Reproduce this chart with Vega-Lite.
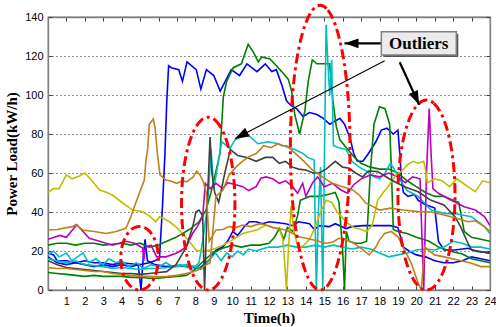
{
"$schema": "https://vega.github.io/schema/vega-lite/v6.json",
"width": 442, "height": 273,
"autosize": {"type": "none"},
"padding": {"left": 48, "top": 17, "right": 6, "bottom": 37},
"background": "white",
"config": {
  "view": {"stroke": "#7f7f7f", "strokeWidth": 1.3},
  "axis": {"domainColor": "#7f7f7f", "domainWidth": 1.3, "tickColor": "#404040", "tickWidth": 1,
    "labelFont": "Liberation Sans", "labelFontSize": 11, "labelColor": "#000",
    "titleFont": "Liberation Serif", "titleFontSize": 15, "titleFontWeight": "bold", "titleColor": "#000"}
},
"datasets": {
"load": [
{"s":"b1","t":0,"v":19},{"s":"b1","t":0.3,"v":18},{"s":"b1","t":0.5,"v":15},{"s":"b1","t":1,"v":15},{"s":"b1","t":1.5,"v":14},{"s":"b1","t":2,"v":15},{"s":"b1","t":2.5,"v":14},{"s":"b1","t":3,"v":14},{"s":"b1","t":3.5,"v":13},{"s":"b1","t":4,"v":14},{"s":"b1","t":4.5,"v":13.5},{"s":"b1","t":5,"v":13},{"s":"b1","t":5.5,"v":14},{"s":"b1","t":5.8,"v":15},{"s":"b1","t":6.05,"v":16},{"s":"b1","t":6.2,"v":40},{"s":"b1","t":6.35,"v":70},{"s":"b1","t":6.45,"v":97},{"s":"b1","t":6.55,"v":115},{"s":"b1","t":6.7,"v":114},{"s":"b1","t":7.1,"v":113},{"s":"b1","t":7.3,"v":107},{"s":"b1","t":7.55,"v":117},{"s":"b1","t":8.05,"v":113},{"s":"b1","t":8.3,"v":103},{"s":"b1","t":8.6,"v":113},{"s":"b1","t":9.0,"v":110},{"s":"b1","t":9.35,"v":102},{"s":"b1","t":9.95,"v":113},{"s":"b1","t":10.4,"v":110},{"s":"b1","t":10.8,"v":116},{"s":"b1","t":11.35,"v":112},{"s":"b1","t":11.8,"v":116},{"s":"b1","t":12.15,"v":112},{"s":"b1","t":12.4,"v":113},{"s":"b1","t":12.7,"v":105},{"s":"b1","t":12.95,"v":97},{"s":"b1","t":13.2,"v":94.5},{"s":"b1","t":13.5,"v":93},{"s":"b1","t":13.85,"v":89},{"s":"b1","t":14.2,"v":91},{"s":"b1","t":14.6,"v":90},{"s":"b1","t":14.95,"v":88},{"s":"b1","t":15.3,"v":85},{"s":"b1","t":15.85,"v":88},{"s":"b1","t":16.1,"v":85},{"s":"b1","t":16.4,"v":78},{"s":"b1","t":16.6,"v":70},{"s":"b1","t":16.8,"v":66},{"s":"b1","t":17.1,"v":66},{"s":"b1","t":17.4,"v":70},{"s":"b1","t":17.8,"v":76},{"s":"b1","t":18.1,"v":82},{"s":"b1","t":18.4,"v":83},{"s":"b1","t":18.75,"v":80},{"s":"b1","t":19.0,"v":82},{"s":"b1","t":19.1,"v":70},{"s":"b1","t":19.2,"v":56},{"s":"b1","t":19.3,"v":50},{"s":"b1","t":19.55,"v":48},{"s":"b1","t":19.9,"v":49},{"s":"b1","t":20.1,"v":46},{"s":"b1","t":20.45,"v":44},{"s":"b1","t":21.0,"v":42},{"s":"b1","t":21.2,"v":25},{"s":"b1","t":21.5,"v":20.5},{"s":"b1","t":22.1,"v":20.5},{"s":"b1","t":22.8,"v":21.4},{"s":"b1","t":23.3,"v":19.7},{"s":"b1","t":24,"v":19},

{"s":"b2","t":0,"v":17},{"s":"b2","t":0.5,"v":14},{"s":"b2","t":1,"v":13},{"s":"b2","t":1.5,"v":14},{"s":"b2","t":2,"v":13},{"s":"b2","t":2.5,"v":12},{"s":"b2","t":3,"v":13},{"s":"b2","t":3.5,"v":12},{"s":"b2","t":4,"v":13},{"s":"b2","t":4.5,"v":12},{"s":"b2","t":4.9,"v":13},{"s":"b2","t":5.05,"v":0},{"s":"b2","t":5.15,"v":14},{"s":"b2","t":5.27,"v":26},{"s":"b2","t":5.4,"v":15},{"s":"b2","t":5.8,"v":13},{"s":"b2","t":6.4,"v":12},{"s":"b2","t":7.0,"v":12.5},{"s":"b2","t":7.67,"v":12},{"s":"b2","t":8.2,"v":11},{"s":"b2","t":8.76,"v":15.4},{"s":"b2","t":9.12,"v":20.5},{"s":"b2","t":9.48,"v":22},{"s":"b2","t":9.75,"v":25},{"s":"b2","t":10.03,"v":30},{"s":"b2","t":10.3,"v":28},{"s":"b2","t":10.66,"v":32.5},{"s":"b2","t":10.93,"v":35},{"s":"b2","t":11.3,"v":35},{"s":"b2","t":11.65,"v":34},{"s":"b2","t":12,"v":35},{"s":"b2","t":12.5,"v":34.5},{"s":"b2","t":12.9,"v":34},{"s":"b2","t":13.28,"v":33},{"s":"b2","t":13.6,"v":35},{"s":"b2","t":14.2,"v":34},{"s":"b2","t":14.46,"v":31},{"s":"b2","t":14.73,"v":33},{"s":"b2","t":15.27,"v":32.5},{"s":"b2","t":15.6,"v":34},{"s":"b2","t":16.18,"v":31.5},{"s":"b2","t":16.5,"v":32.5},{"s":"b2","t":17.1,"v":33},{"s":"b2","t":17.6,"v":33},{"s":"b2","t":18,"v":33},{"s":"b2","t":18.6,"v":33},{"s":"b2","t":19.0,"v":32},{"s":"b2","t":19.3,"v":22},{"s":"b2","t":19.6,"v":20},{"s":"b2","t":20,"v":18},{"s":"b2","t":20.5,"v":17},{"s":"b2","t":21,"v":15},{"s":"b2","t":21.5,"v":14},{"s":"b2","t":22,"v":14},{"s":"b2","t":22.5,"v":15},{"s":"b2","t":23,"v":17},{"s":"b2","t":23.5,"v":16},{"s":"b2","t":24,"v":15},

{"s":"g1","t":0,"v":23},{"s":"g1","t":0.5,"v":24},{"s":"g1","t":1,"v":24},{"s":"g1","t":1.5,"v":23},{"s":"g1","t":2,"v":24},{"s":"g1","t":2.5,"v":24},{"s":"g1","t":3,"v":23},{"s":"g1","t":3.5,"v":23.5},{"s":"g1","t":4,"v":24},{"s":"g1","t":4.5,"v":23},{"s":"g1","t":5,"v":24},{"s":"g1","t":5.5,"v":22},{"s":"g1","t":6,"v":23},{"s":"g1","t":6.2,"v":24},{"s":"g1","t":6.95,"v":27},{"s":"g1","t":7.67,"v":31},{"s":"g1","t":8.2,"v":35},{"s":"g1","t":8.58,"v":41},{"s":"g1","t":8.85,"v":50},{"s":"g1","t":9.1,"v":60},{"s":"g1","t":9.34,"v":70},{"s":"g1","t":9.52,"v":99},{"s":"g1","t":9.7,"v":107},{"s":"g1","t":10.06,"v":114},{"s":"g1","t":10.5,"v":116},{"s":"g1","t":10.87,"v":126},{"s":"g1","t":11.15,"v":122},{"s":"g1","t":11.42,"v":117},{"s":"g1","t":11.6,"v":119.5},{"s":"g1","t":12.05,"v":118.5},{"s":"g1","t":12.4,"v":115},{"s":"g1","t":12.69,"v":112},{"s":"g1","t":13.05,"v":108},{"s":"g1","t":13.23,"v":102},{"s":"g1","t":13.4,"v":90},{"s":"g1","t":13.66,"v":80},{"s":"g1","t":13.95,"v":92},{"s":"g1","t":14.13,"v":107},{"s":"g1","t":14.35,"v":118},{"s":"g1","t":14.6,"v":116},{"s":"g1","t":14.95,"v":116},{"s":"g1","t":15.29,"v":116},{"s":"g1","t":15.47,"v":97},{"s":"g1","t":15.65,"v":84},{"s":"g1","t":15.85,"v":77},{"s":"g1","t":16.2,"v":73},{"s":"g1","t":16.65,"v":68},{"s":"g1","t":17,"v":65},{"s":"g1","t":17.5,"v":63},{"s":"g1","t":18,"v":62},{"s":"g1","t":18.5,"v":62},{"s":"g1","t":19,"v":60},{"s":"g1","t":19.5,"v":56},{"s":"g1","t":20,"v":53},{"s":"g1","t":20.5,"v":50},{"s":"g1","t":21,"v":48},{"s":"g1","t":21.5,"v":48},{"s":"g1","t":22,"v":46},{"s":"g1","t":22.3,"v":45},{"s":"g1","t":22.6,"v":30},{"s":"g1","t":23,"v":27},{"s":"g1","t":23.5,"v":26},{"s":"g1","t":24,"v":25},

{"s":"g2","t":0,"v":9},{"s":"g2","t":0.5,"v":8.5},{"s":"g2","t":1,"v":8},{"s":"g2","t":1.5,"v":7.5},{"s":"g2","t":2,"v":7},{"s":"g2","t":2.5,"v":7.5},{"s":"g2","t":3,"v":7},{"s":"g2","t":3.5,"v":7},{"s":"g2","t":4,"v":7},{"s":"g2","t":4.5,"v":6.5},{"s":"g2","t":5,"v":6.5},{"s":"g2","t":5.5,"v":6},{"s":"g2","t":6,"v":6},{"s":"g2","t":6.5,"v":6.5},{"s":"g2","t":7,"v":7},{"s":"g2","t":7.5,"v":7.5},{"s":"g2","t":7.7,"v":8.5},{"s":"g2","t":8.03,"v":11},{"s":"g2","t":8.4,"v":14.5},{"s":"g2","t":8.94,"v":19},{"s":"g2","t":9.48,"v":21.4},{"s":"g2","t":10.03,"v":23},{"s":"g2","t":10.5,"v":22},{"s":"g2","t":11,"v":23},{"s":"g2","t":11.5,"v":23},{"s":"g2","t":12,"v":24},{"s":"g2","t":12.3,"v":27},{"s":"g2","t":12.56,"v":31.6},{"s":"g2","t":12.8,"v":26},{"s":"g2","t":13.0,"v":32},{"s":"g2","t":13.3,"v":30},{"s":"g2","t":13.55,"v":38},{"s":"g2","t":13.7,"v":46},{"s":"g2","t":14.2,"v":48},{"s":"g2","t":14.7,"v":48},{"s":"g2","t":15.2,"v":49},{"s":"g2","t":15.6,"v":50},{"s":"g2","t":15.8,"v":45},{"s":"g2","t":16.0,"v":20},{"s":"g2","t":16.1,"v":0},{"s":"g2","t":16.2,"v":30},{"s":"g2","t":16.35,"v":25},{"s":"g2","t":16.7,"v":24},{"s":"g2","t":17.0,"v":24},{"s":"g2","t":17.3,"v":25},{"s":"g2","t":17.5,"v":60},{"s":"g2","t":17.7,"v":85},{"s":"g2","t":18.0,"v":94},{"s":"g2","t":18.3,"v":93},{"s":"g2","t":18.55,"v":85},{"s":"g2","t":18.65,"v":60},{"s":"g2","t":18.75,"v":31},{"s":"g2","t":19,"v":30},{"s":"g2","t":19.5,"v":29},{"s":"g2","t":20,"v":27},{"s":"g2","t":20.7,"v":25},{"s":"g2","t":21.2,"v":22},{"s":"g2","t":21.8,"v":20},{"s":"g2","t":22.5,"v":18.5},{"s":"g2","t":23,"v":16},{"s":"g2","t":23.5,"v":15},{"s":"g2","t":24,"v":14},

{"s":"c1","t":0,"v":16},{"s":"c1","t":0.5,"v":15},{"s":"c1","t":1,"v":14},{"s":"c1","t":1.5,"v":15},{"s":"c1","t":2,"v":13},{"s":"c1","t":2.5,"v":12.5},{"s":"c1","t":3,"v":12},{"s":"c1","t":3.5,"v":11},{"s":"c1","t":4,"v":11.5},{"s":"c1","t":4.5,"v":11},{"s":"c1","t":5,"v":10.5},{"s":"c1","t":5.5,"v":11},{"s":"c1","t":6,"v":11},{"s":"c1","t":6.5,"v":11.5},{"s":"c1","t":7,"v":12},{"s":"c1","t":7.5,"v":13},{"s":"c1","t":8,"v":12},{"s":"c1","t":8.2,"v":14},{"s":"c1","t":8.4,"v":25},{"s":"c1","t":8.6,"v":39},{"s":"c1","t":8.75,"v":55},{"s":"c1","t":8.85,"v":72},{"s":"c1","t":9.0,"v":52},{"s":"c1","t":9.2,"v":63},{"s":"c1","t":9.43,"v":76},{"s":"c1","t":9.7,"v":74},{"s":"c1","t":9.88,"v":72.6},{"s":"c1","t":10.15,"v":77},{"s":"c1","t":10.6,"v":79},{"s":"c1","t":10.86,"v":79.5},{"s":"c1","t":11.4,"v":75},{"s":"c1","t":11.94,"v":76},{"s":"c1","t":12.5,"v":75},{"s":"c1","t":12.94,"v":73.5},{"s":"c1","t":13.4,"v":72},{"s":"c1","t":13.84,"v":70},{"s":"c1","t":14.1,"v":68},{"s":"c1","t":14.45,"v":66.7},{"s":"c1","t":14.57,"v":0},{"s":"c1","t":14.68,"v":40},{"s":"c1","t":14.8,"v":63},{"s":"c1","t":14.92,"v":0},{"s":"c1","t":15.1,"v":136},{"s":"c1","t":15.2,"v":116},{"s":"c1","t":15.3,"v":100},{"s":"c1","t":15.4,"v":118},{"s":"c1","t":15.5,"v":74},{"s":"c1","t":15.8,"v":73},{"s":"c1","t":16.2,"v":72},{"s":"c1","t":16.5,"v":66},{"s":"c1","t":16.9,"v":63},{"s":"c1","t":17.3,"v":61},{"s":"c1","t":17.7,"v":58},{"s":"c1","t":18,"v":57},{"s":"c1","t":18.3,"v":60},{"s":"c1","t":18.6,"v":65},{"s":"c1","t":18.8,"v":62},{"s":"c1","t":19,"v":58},{"s":"c1","t":19.5,"v":51},{"s":"c1","t":20.1,"v":48},{"s":"c1","t":20.8,"v":41},{"s":"c1","t":21.5,"v":39.3},{"s":"c1","t":22.2,"v":39},{"s":"c1","t":23,"v":37.6},{"s":"c1","t":23.7,"v":32.5},{"s":"c1","t":24,"v":29},

{"s":"c2","t":0,"v":18},{"s":"c2","t":0.3,"v":20},{"s":"c2","t":0.6,"v":17},{"s":"c2","t":1,"v":19},{"s":"c2","t":1.3,"v":15},{"s":"c2","t":1.6,"v":17},{"s":"c2","t":1.9,"v":19},{"s":"c2","t":2.2,"v":14},{"s":"c2","t":2.6,"v":16},{"s":"c2","t":3,"v":13},{"s":"c2","t":3.3,"v":16},{"s":"c2","t":3.7,"v":14},{"s":"c2","t":4,"v":15},{"s":"c2","t":4.4,"v":12},{"s":"c2","t":4.8,"v":14},{"s":"c2","t":5.2,"v":11},{"s":"c2","t":5.6,"v":13},{"s":"c2","t":6,"v":12},{"s":"c2","t":6.4,"v":14},{"s":"c2","t":6.8,"v":12},{"s":"c2","t":7.2,"v":13},{"s":"c2","t":7.6,"v":11.5},{"s":"c2","t":8,"v":12},{"s":"c2","t":8.3,"v":10.5},{"s":"c2","t":8.7,"v":15},{"s":"c2","t":9.1,"v":19},{"s":"c2","t":9.4,"v":15},{"s":"c2","t":9.7,"v":19},{"s":"c2","t":10,"v":17},{"s":"c2","t":10.3,"v":20},{"s":"c2","t":10.6,"v":18},{"s":"c2","t":10.9,"v":21},{"s":"c2","t":11.3,"v":20},{"s":"c2","t":11.6,"v":21},{"s":"c2","t":12,"v":22},{"s":"c2","t":12.5,"v":22},{"s":"c2","t":13,"v":23},{"s":"c2","t":13.5,"v":22},{"s":"c2","t":14,"v":22},{"s":"c2","t":14.5,"v":23},{"s":"c2","t":15,"v":22},{"s":"c2","t":15.5,"v":23},{"s":"c2","t":16,"v":22},{"s":"c2","t":16.5,"v":21},{"s":"c2","t":17,"v":22},{"s":"c2","t":17.5,"v":21},{"s":"c2","t":18,"v":19},{"s":"c2","t":18.5,"v":17},{"s":"c2","t":19,"v":18},{"s":"c2","t":19.5,"v":19},{"s":"c2","t":20,"v":20.5},{"s":"c2","t":20.5,"v":21},{"s":"c2","t":21,"v":20.5},{"s":"c2","t":21.5,"v":22},{"s":"c2","t":22,"v":25},{"s":"c2","t":22.5,"v":24},{"s":"c2","t":23,"v":22},{"s":"c2","t":23.5,"v":22},{"s":"c2","t":24,"v":21},

{"s":"m1","t":0,"v":26},{"s":"m1","t":0.65,"v":28},{"s":"m1","t":1,"v":27},{"s":"m1","t":1.56,"v":33.5},{"s":"m1","t":1.8,"v":31},{"s":"m1","t":2.24,"v":26.5},{"s":"m1","t":2.8,"v":25},{"s":"m1","t":3.5,"v":23},{"s":"m1","t":4.23,"v":25},{"s":"m1","t":4.7,"v":24},{"s":"m1","t":5.14,"v":21.5},{"s":"m1","t":5.2,"v":15},{"s":"m1","t":5.3,"v":22},{"s":"m1","t":5.6,"v":23},{"s":"m1","t":5.9,"v":17},{"s":"m1","t":6.4,"v":17},{"s":"m1","t":7.0,"v":19},{"s":"m1","t":7.5,"v":22},{"s":"m1","t":7.85,"v":29},{"s":"m1","t":8.1,"v":32.5},{"s":"m1","t":8.4,"v":37.6},{"s":"m1","t":8.54,"v":54.7},{"s":"m1","t":8.8,"v":52},{"s":"m1","t":9.12,"v":54.7},{"s":"m1","t":9.5,"v":52},{"s":"m1","t":9.75,"v":55},{"s":"m1","t":10.2,"v":54},{"s":"m1","t":10.57,"v":53},{"s":"m1","t":10.9,"v":51},{"s":"m1","t":11.3,"v":53},{"s":"m1","t":11.56,"v":57.3},{"s":"m1","t":11.84,"v":58},{"s":"m1","t":12.2,"v":57},{"s":"m1","t":12.56,"v":54.7},{"s":"m1","t":12.9,"v":56},{"s":"m1","t":13.28,"v":53},{"s":"m1","t":13.55,"v":49.6},{"s":"m1","t":13.83,"v":54.7},{"s":"m1","t":14.0,"v":48},{"s":"m1","t":14.37,"v":55},{"s":"m1","t":14.64,"v":58},{"s":"m1","t":15,"v":53},{"s":"m1","t":15.45,"v":54.7},{"s":"m1","t":15.9,"v":51.3},{"s":"m1","t":16.27,"v":49.6},{"s":"m1","t":16.6,"v":54},{"s":"m1","t":17,"v":57},{"s":"m1","t":17.5,"v":59},{"s":"m1","t":18,"v":58},{"s":"m1","t":18.5,"v":60},{"s":"m1","t":19,"v":58},{"s":"m1","t":19.4,"v":55},{"s":"m1","t":19.8,"v":58},{"s":"m1","t":20.2,"v":57},{"s":"m1","t":20.4,"v":0},{"s":"m1","t":20.55,"v":60},{"s":"m1","t":20.7,"v":93},{"s":"m1","t":20.8,"v":70},{"s":"m1","t":20.9,"v":52},{"s":"m1","t":21.2,"v":49.6},{"s":"m1","t":21.9,"v":46},{"s":"m1","t":22.6,"v":42.7},{"s":"m1","t":23.2,"v":41},{"s":"m1","t":23.7,"v":37.6},{"s":"m1","t":24,"v":33},

{"s":"y1","t":0,"v":50},{"s":"y1","t":0.3,"v":52},{"s":"y1","t":0.6,"v":52},{"s":"y1","t":1,"v":59},{"s":"y1","t":1.3,"v":57},{"s":"y1","t":1.7,"v":58.5},{"s":"y1","t":2,"v":60},{"s":"y1","t":2.3,"v":57},{"s":"y1","t":2.8,"v":51.3},{"s":"y1","t":3.2,"v":50},{"s":"y1","t":3.5,"v":48.7},{"s":"y1","t":4,"v":45},{"s":"y1","t":4.6,"v":41},{"s":"y1","t":5.1,"v":40.2},{"s":"y1","t":5.5,"v":38},{"s":"y1","t":5.86,"v":35},{"s":"y1","t":6.05,"v":37.6},{"s":"y1","t":6.3,"v":36.5},{"s":"y1","t":6.6,"v":35},{"s":"y1","t":7.0,"v":32},{"s":"y1","t":7.3,"v":29},{"s":"y1","t":7.67,"v":25},{"s":"y1","t":8.03,"v":20.5},{"s":"y1","t":8.4,"v":19.7},{"s":"y1","t":8.8,"v":20.5},{"s":"y1","t":9.12,"v":21.4},{"s":"y1","t":9.5,"v":23},{"s":"y1","t":10.0,"v":25.6},{"s":"y1","t":10.57,"v":29},{"s":"y1","t":11.0,"v":30},{"s":"y1","t":11.4,"v":31},{"s":"y1","t":11.83,"v":33.3},{"s":"y1","t":12.2,"v":32},{"s":"y1","t":12.56,"v":31.6},{"s":"y1","t":12.75,"v":26},{"s":"y1","t":12.85,"v":14},{"s":"y1","t":12.95,"v":0},{"s":"y1","t":13.05,"v":20},{"s":"y1","t":13.2,"v":43},{"s":"y1","t":13.35,"v":30},{"s":"y1","t":13.6,"v":21.5},{"s":"y1","t":13.9,"v":23},{"s":"y1","t":14.2,"v":26},{"s":"y1","t":14.5,"v":32},{"s":"y1","t":14.8,"v":40},{"s":"y1","t":15.1,"v":46},{"s":"y1","t":15.4,"v":45},{"s":"y1","t":15.7,"v":40},{"s":"y1","t":16.0,"v":37},{"s":"y1","t":16.3,"v":34},{"s":"y1","t":16.6,"v":32},{"s":"y1","t":17.0,"v":31},{"s":"y1","t":17.3,"v":30},{"s":"y1","t":17.6,"v":33},{"s":"y1","t":17.9,"v":46},{"s":"y1","t":18.2,"v":50},{"s":"y1","t":18.46,"v":53},{"s":"y1","t":18.9,"v":59},{"s":"y1","t":19.2,"v":61},{"s":"y1","t":19.5,"v":64},{"s":"y1","t":19.8,"v":66},{"s":"y1","t":20.1,"v":65},{"s":"y1","t":20.4,"v":66},{"s":"y1","t":20.5,"v":61.5},{"s":"y1","t":20.6,"v":55},{"s":"y1","t":21,"v":57},{"s":"y1","t":21.4,"v":56},{"s":"y1","t":21.8,"v":53},{"s":"y1","t":22.2,"v":57},{"s":"y1","t":22.5,"v":55},{"s":"y1","t":22.8,"v":53},{"s":"y1","t":23.2,"v":50.4},{"s":"y1","t":23.6,"v":56},{"s":"y1","t":24,"v":55},

{"s":"k1","t":0,"v":15},{"s":"k1","t":0.5,"v":13},{"s":"k1","t":1,"v":11.5},{"s":"k1","t":1.5,"v":11},{"s":"k1","t":2,"v":10.5},{"s":"k1","t":2.5,"v":10},{"s":"k1","t":3,"v":9.5},{"s":"k1","t":3.5,"v":9},{"s":"k1","t":4,"v":8.5},{"s":"k1","t":4.5,"v":8.5},{"s":"k1","t":5,"v":8},{"s":"k1","t":5.5,"v":8.5},{"s":"k1","t":6,"v":9},{"s":"k1","t":6.44,"v":9.4},{"s":"k1","t":6.95,"v":13},{"s":"k1","t":7.2,"v":17},{"s":"k1","t":7.5,"v":22},{"s":"k1","t":7.85,"v":32},{"s":"k1","t":8.03,"v":40},{"s":"k1","t":8.2,"v":41},{"s":"k1","t":8.4,"v":38},{"s":"k1","t":8.5,"v":0},{"s":"k1","t":8.65,"v":45},{"s":"k1","t":8.8,"v":78.5},{"s":"k1","t":8.9,"v":60},{"s":"k1","t":9.05,"v":50},{"s":"k1","t":9.27,"v":45},{"s":"k1","t":9.6,"v":60},{"s":"k1","t":9.9,"v":72},{"s":"k1","t":10.3,"v":69},{"s":"k1","t":10.8,"v":68},{"s":"k1","t":11.3,"v":66},{"s":"k1","t":11.8,"v":68},{"s":"k1","t":12.2,"v":68},{"s":"k1","t":12.56,"v":65},{"s":"k1","t":12.9,"v":66},{"s":"k1","t":13.28,"v":63},{"s":"k1","t":13.6,"v":62},{"s":"k1","t":14,"v":61.5},{"s":"k1","t":14.4,"v":60},{"s":"k1","t":14.73,"v":60},{"s":"k1","t":15.1,"v":62},{"s":"k1","t":15.6,"v":66},{"s":"k1","t":16,"v":63},{"s":"k1","t":16.36,"v":62.4},{"s":"k1","t":16.7,"v":60},{"s":"k1","t":17.08,"v":58},{"s":"k1","t":17.4,"v":61},{"s":"k1","t":17.9,"v":60.7},{"s":"k1","t":18.64,"v":56.4},{"s":"k1","t":19.36,"v":53},{"s":"k1","t":20.1,"v":50.4},{"s":"k1","t":20.8,"v":46},{"s":"k1","t":21.5,"v":43.6},{"s":"k1","t":22.1,"v":37.6},{"s":"k1","t":22.4,"v":32.5},{"s":"k1","t":22.8,"v":24},{"s":"k1","t":23,"v":20.5},{"s":"k1","t":23.5,"v":19.7},{"s":"k1","t":24,"v":18.8},

{"s":"o1","t":0,"v":30.8},{"s":"o1","t":0.5,"v":31},{"s":"o1","t":1,"v":32},{"s":"o1","t":1.34,"v":32.5},{"s":"o1","t":1.5,"v":33.5},{"s":"o1","t":1.88,"v":30.8},{"s":"o1","t":2.5,"v":30},{"s":"o1","t":3.15,"v":29},{"s":"o1","t":3.7,"v":30},{"s":"o1","t":4.23,"v":31.6},{"s":"o1","t":4.5,"v":37.6},{"s":"o1","t":4.69,"v":42.7},{"s":"o1","t":4.96,"v":49.6},{"s":"o1","t":5.23,"v":56.4},{"s":"o1","t":5.32,"v":66.7},{"s":"o1","t":5.41,"v":72},{"s":"o1","t":5.5,"v":85},{"s":"o1","t":5.72,"v":87.7},{"s":"o1","t":5.81,"v":83.4},{"s":"o1","t":5.94,"v":70},{"s":"o1","t":6.08,"v":59},{"s":"o1","t":6.4,"v":56.4},{"s":"o1","t":6.62,"v":56},{"s":"o1","t":6.99,"v":54.7},{"s":"o1","t":7.3,"v":56},{"s":"o1","t":7.53,"v":55.5},{"s":"o1","t":7.89,"v":58},{"s":"o1","t":8.07,"v":61},{"s":"o1","t":8.25,"v":59},{"s":"o1","t":8.43,"v":55.5},{"s":"o1","t":8.6,"v":49.6},{"s":"o1","t":8.75,"v":25},{"s":"o1","t":9.12,"v":30.8},{"s":"o1","t":9.5,"v":31},{"s":"o1","t":9.84,"v":32.5},{"s":"o1","t":10.2,"v":32},{"s":"o1","t":10.57,"v":33.3},{"s":"o1","t":11,"v":32.5},{"s":"o1","t":11.5,"v":34},{"s":"o1","t":11.83,"v":33.3},{"s":"o1","t":12.38,"v":31.6},{"s":"o1","t":12.92,"v":30.8},{"s":"o1","t":13.3,"v":29},{"s":"o1","t":13.64,"v":27.3},{"s":"o1","t":14,"v":26.5},{"s":"o1","t":14.5,"v":25.5},{"s":"o1","t":15.1,"v":24},{"s":"o1","t":15.45,"v":24.5},{"s":"o1","t":15.8,"v":26.5},{"s":"o1","t":16.2,"v":25.6},{"s":"o1","t":16.6,"v":24},{"s":"o1","t":17,"v":21.4},{"s":"o1","t":17.44,"v":18},{"s":"o1","t":17.8,"v":22},{"s":"o1","t":18,"v":25.6},{"s":"o1","t":18.28,"v":29},{"s":"o1","t":18.64,"v":30},{"s":"o1","t":19,"v":27.3},{"s":"o1","t":19.36,"v":20.5},{"s":"o1","t":19.73,"v":13.7},{"s":"o1","t":20.1,"v":3.4},{"s":"o1","t":20.27,"v":0},{"s":"o1","t":20.45,"v":22.2},{"s":"o1","t":20.7,"v":20},{"s":"o1","t":21,"v":18},{"s":"o1","t":21.5,"v":17},{"s":"o1","t":22.26,"v":15.4},{"s":"o1","t":23,"v":13.7},{"s":"o1","t":23.5,"v":12},{"s":"o1","t":24,"v":12},

{"s":"o2","t":0,"v":11.5},{"s":"o2","t":0.5,"v":11},{"s":"o2","t":1,"v":11},{"s":"o2","t":1.5,"v":10.5},{"s":"o2","t":2,"v":10},{"s":"o2","t":2.5,"v":9.5},{"s":"o2","t":3,"v":9.5},{"s":"o2","t":3.5,"v":8.5},{"s":"o2","t":4,"v":8},{"s":"o2","t":4.5,"v":7.5},{"s":"o2","t":5,"v":7},{"s":"o2","t":5.5,"v":7},{"s":"o2","t":6,"v":6.8},{"s":"o2","t":6.5,"v":7},{"s":"o2","t":7,"v":7.5},{"s":"o2","t":7.5,"v":8.5},{"s":"o2","t":7.9,"v":9.4},{"s":"o2","t":8.2,"v":10.5},{"s":"o2","t":8.43,"v":12},{"s":"o2","t":8.8,"v":14},{"s":"o2","t":8.95,"v":30},{"s":"o2","t":9.12,"v":48},{"s":"o2","t":9.48,"v":51},{"s":"o2","t":9.84,"v":59},{"s":"o2","t":10.2,"v":63},{"s":"o2","t":10.55,"v":66},{"s":"o2","t":10.93,"v":68.4},{"s":"o2","t":11.3,"v":70},{"s":"o2","t":11.58,"v":72.6},{"s":"o2","t":11.7,"v":74},{"s":"o2","t":12.1,"v":73},{"s":"o2","t":12.49,"v":75},{"s":"o2","t":12.7,"v":74},{"s":"o2","t":12.96,"v":74},{"s":"o2","t":13.2,"v":72},{"s":"o2","t":13.55,"v":69},{"s":"o2","t":13.9,"v":66},{"s":"o2","t":14.3,"v":62},{"s":"o2","t":14.9,"v":58},{"s":"o2","t":15.45,"v":54.7},{"s":"o2","t":16,"v":53},{"s":"o2","t":16.55,"v":51.3},{"s":"o2","t":16.9,"v":48.7},{"s":"o2","t":17.26,"v":44.5},{"s":"o2","t":17.6,"v":43},{"s":"o2","t":18,"v":41},{"s":"o2","t":18.6,"v":42},{"s":"o2","t":19.3,"v":41},{"s":"o2","t":20.1,"v":40.2},{"s":"o2","t":20.8,"v":40},{"s":"o2","t":21.5,"v":38.5},{"s":"o2","t":22.1,"v":37},{"s":"o2","t":22.8,"v":35},{"s":"o2","t":23.2,"v":35.5},{"s":"o2","t":23.7,"v":32.5},{"s":"o2","t":24,"v":30}
],
"ellipses": [
{"e":1,"i":0,"x":4.97,"y":32.6},{"e":1,"i":1,"x":5.234,"y":32.05},{"e":1,"i":2,"x":5.48,"y":30.42},{"e":1,"i":3,"x":5.691,"y":27.82},{"e":1,"i":4,"x":5.853,"y":24.45},{"e":1,"i":5,"x":5.955,"y":20.52},{"e":1,"i":6,"x":5.99,"y":16.3},{"e":1,"i":7,"x":5.955,"y":12.08},{"e":1,"i":8,"x":5.853,"y":8.15},{"e":1,"i":9,"x":5.691,"y":4.78},{"e":1,"i":10,"x":5.48,"y":2.18},{"e":1,"i":11,"x":5.234,"y":0.55},{"e":1,"i":12,"x":4.97,"y":0},{"e":1,"i":13,"x":4.706,"y":0.55},{"e":1,"i":14,"x":4.46,"y":2.18},{"e":1,"i":15,"x":4.249,"y":4.78},{"e":1,"i":16,"x":4.087,"y":8.15},{"e":1,"i":17,"x":3.985,"y":12.08},{"e":1,"i":18,"x":3.95,"y":16.3},{"e":1,"i":19,"x":3.985,"y":20.52},{"e":1,"i":20,"x":4.087,"y":24.45},{"e":1,"i":21,"x":4.249,"y":27.82},{"e":1,"i":22,"x":4.46,"y":30.42},{"e":1,"i":23,"x":4.706,"y":32.05},
{"e":2,"i":0,"x":8.7,"y":88.6},{"e":2,"i":1,"x":9.076,"y":87.09},{"e":2,"i":2,"x":9.425,"y":82.66},{"e":2,"i":3,"x":9.725,"y":75.62},{"e":2,"i":4,"x":9.956,"y":66.45},{"e":2,"i":5,"x":10.101,"y":55.77},{"e":2,"i":6,"x":10.15,"y":44.3},{"e":2,"i":7,"x":10.101,"y":32.83},{"e":2,"i":8,"x":9.956,"y":22.15},{"e":2,"i":9,"x":9.725,"y":12.98},{"e":2,"i":10,"x":9.425,"y":5.94},{"e":2,"i":11,"x":9.076,"y":1.51},{"e":2,"i":12,"x":8.7,"y":0},{"e":2,"i":13,"x":8.324,"y":1.51},{"e":2,"i":14,"x":7.975,"y":5.94},{"e":2,"i":15,"x":7.675,"y":12.98},{"e":2,"i":16,"x":7.444,"y":22.15},{"e":2,"i":17,"x":7.299,"y":32.83},{"e":2,"i":18,"x":7.25,"y":44.3},{"e":2,"i":19,"x":7.299,"y":55.77},{"e":2,"i":20,"x":7.444,"y":66.45},{"e":2,"i":21,"x":7.675,"y":75.62},{"e":2,"i":22,"x":7.975,"y":82.66},{"e":2,"i":23,"x":8.324,"y":87.09},
{"e":3,"i":0,"x":14.78,"y":146},{"e":3,"i":1,"x":15.2,"y":143.52},{"e":3,"i":2,"x":15.59,"y":136.22},{"e":3,"i":3,"x":15.925,"y":124.61},{"e":3,"i":4,"x":16.183,"y":109.5},{"e":3,"i":5,"x":16.345,"y":91.91},{"e":3,"i":6,"x":16.4,"y":73},{"e":3,"i":7,"x":16.345,"y":54.09},{"e":3,"i":8,"x":16.183,"y":36.5},{"e":3,"i":9,"x":15.925,"y":21.39},{"e":3,"i":10,"x":15.59,"y":9.78},{"e":3,"i":11,"x":15.2,"y":2.48},{"e":3,"i":12,"x":14.78,"y":0},{"e":3,"i":13,"x":14.36,"y":2.48},{"e":3,"i":14,"x":13.97,"y":9.78},{"e":3,"i":15,"x":13.635,"y":21.39},{"e":3,"i":16,"x":13.377,"y":36.5},{"e":3,"i":17,"x":13.215,"y":54.09},{"e":3,"i":18,"x":13.16,"y":73},{"e":3,"i":19,"x":13.215,"y":91.91},{"e":3,"i":20,"x":13.377,"y":109.5},{"e":3,"i":21,"x":13.635,"y":124.61},{"e":3,"i":22,"x":13.97,"y":136.22},{"e":3,"i":23,"x":14.36,"y":143.52},
{"e":4,"i":0,"x":20.55,"y":97.4},{"e":4,"i":1,"x":20.951,"y":95.74},{"e":4,"i":2,"x":21.325,"y":90.87},{"e":4,"i":3,"x":21.646,"y":83.13},{"e":4,"i":4,"x":21.892,"y":73.05},{"e":4,"i":5,"x":22.047,"y":61.31},{"e":4,"i":6,"x":22.1,"y":48.7},{"e":4,"i":7,"x":22.047,"y":36.09},{"e":4,"i":8,"x":21.892,"y":24.35},{"e":4,"i":9,"x":21.646,"y":14.27},{"e":4,"i":10,"x":21.325,"y":6.53},{"e":4,"i":11,"x":20.951,"y":1.66},{"e":4,"i":12,"x":20.55,"y":0},{"e":4,"i":13,"x":20.149,"y":1.66},{"e":4,"i":14,"x":19.775,"y":6.53},{"e":4,"i":15,"x":19.454,"y":14.27},{"e":4,"i":16,"x":19.208,"y":24.35},{"e":4,"i":17,"x":19.053,"y":36.09},{"e":4,"i":18,"x":19.0,"y":48.7},{"e":4,"i":19,"x":19.053,"y":61.31},{"e":4,"i":20,"x":19.208,"y":73.05},{"e":4,"i":21,"x":19.454,"y":83.13},{"e":4,"i":22,"x":19.775,"y":90.87},{"e":4,"i":23,"x":20.149,"y":95.74}
],
"arrows": [
{"a":1,"x":18.1,"y":126.5,"x2":16.1,"y2":126.5},
{"a":2,"x":18.28,"y":117.6,"x2":10.15,"y2":77.6},
{"a":3,"x":19.1,"y":116.8,"x2":20.15,"y2":95}
],
"note": [
{"x1":18.1,"x2":22.17,"y1":120.5,"y2":132.5,"xc":20.13,"yc":126.4,"label":"Outliers"}
]
},
"layer": [
{
"data": {"name": "load"},
"mark": {"type": "line", "strokeWidth": 1.6, "clip": true},
"encoding": {
  "x": {"field": "t", "type": "quantitative", "scale": {"domain": [0, 24], "nice": false},
    "axis": {"orient": "bottom", "values": [1,2,3,4,5,6,7,8,9,10,11,12,13,14,15,16,17,18,19,20,21,22,23,24], "title": "Time(h)", "grid": false, "tickSize": -4, "labelPadding": 9, "labelFlush": false, "titlePadding": 4}},
  "y": {"field": "v", "type": "quantitative", "scale": {"domain": [0, 140], "nice": false},
    "axis": {"orient": "left", "values": [0,20,40,60,80,100,120,140], "title": "Power Load(kW/h)", "grid": true, "gridDash": [1, 3], "gridColor": "#000", "gridOpacity": 0.85, "tickSize": -4, "labelPadding": 9, "titlePadding": 5}},
  "color": {"field": "s", "type": "nominal",
    "scale": {"domain": ["b1","b2","g1","g2","c1","c2","m1","y1","k1","o1","o2"],
              "range": ["#0000FF","#0000FF","#008000","#008000","#00BFBF","#00BFBF","#BF00BF","#BFBF00","#404040","#C0801A","#C0801A"]},
    "legend": null}
}
},
{
"data": {"name": "ellipses"},
"mark": {"type": "line", "interpolate": "cardinal-closed", "color": "#FF0000", "strokeWidth": 3, "strokeDash": [10, 4, 3, 4], "clip": false},
"encoding": {
  "x": {"field": "x", "type": "quantitative", "scale": {"domain": [0, 24], "nice": false},
    "axis": {"orient": "top", "values": [1,2,3,4,5,6,7,8,9,10,11,12,13,14,15,16,17,18,19,20,21,22,23,24], "labels": false, "title": null, "grid": false, "tickSize": -4}},
  "y": {"field": "y", "type": "quantitative", "scale": {"domain": [0, 140], "nice": false},
    "axis": {"orient": "right", "values": [0,20,40,60,80,100,120,140], "labels": false, "title": null, "grid": false, "tickSize": -4}},
  "detail": {"field": "e", "type": "nominal"},
  "order": {"field": "i", "type": "quantitative"}
}
},
{
"data": {"name": "arrows"},
"transform": [{"filter": "datum.a != 2"}],
"mark": {"type": "rule", "color": "#000", "strokeWidth": 2.2},
"encoding": {
  "x": {"field": "x", "type": "quantitative", "scale": {"domain": [0, 24], "nice": false}, "axis": null},
  "y": {"field": "y", "type": "quantitative", "scale": {"domain": [0, 140], "nice": false}, "axis": null},
  "x2": {"field": "x2"}, "y2": {"field": "y2"}
}
},
{
"data": {"name": "arrows"},
"transform": [{"filter": "datum.a == 2"}],
"mark": {"type": "rule", "color": "#000", "strokeWidth": 1.1},
"encoding": {
  "x": {"field": "x", "type": "quantitative", "scale": {"domain": [0, 24], "nice": false}, "axis": null},
  "y": {"field": "y", "type": "quantitative", "scale": {"domain": [0, 140], "nice": false}, "axis": null},
  "x2": {"field": "x2"}, "y2": {"field": "y2"}
}
},
{
"data": {"name": "arrows"},
"transform": [{"filter": "datum.a == 1"}],
"mark": {"type": "point", "shape": "M0,0L-0.7,2L0.7,2Z", "size": 196, "filled": true, "color": "#000", "opacity": 1, "angle": 270},
"encoding": {
  "x": {"field": "x2", "type": "quantitative", "scale": {"domain": [0, 24], "nice": false}, "axis": null},
  "y": {"field": "y2", "type": "quantitative", "scale": {"domain": [0, 140], "nice": false}, "axis": null}
}
},
{
"data": {"name": "arrows"},
"transform": [{"filter": "datum.a == 2"}],
"mark": {"type": "point", "shape": "M0,0L-0.7,2L0.7,2Z", "size": 196, "filled": true, "color": "#000", "opacity": 1, "angle": 242.5},
"encoding": {
  "x": {"field": "x2", "type": "quantitative", "scale": {"domain": [0, 24], "nice": false}, "axis": null},
  "y": {"field": "y2", "type": "quantitative", "scale": {"domain": [0, 140], "nice": false}, "axis": null}
}
},
{
"data": {"name": "arrows"},
"transform": [{"filter": "datum.a == 3"}],
"mark": {"type": "point", "shape": "M0,0L-0.7,2L0.7,2Z", "size": 196, "filled": true, "color": "#000", "opacity": 1, "angle": 155.7},
"encoding": {
  "x": {"field": "x2", "type": "quantitative", "scale": {"domain": [0, 24], "nice": false}, "axis": null},
  "y": {"field": "y2", "type": "quantitative", "scale": {"domain": [0, 140], "nice": false}, "axis": null}
}
},
{
"data": {"name": "note"},
"mark": {"type": "rect", "color": "#555555", "xOffset": 2, "x2Offset": 2, "yOffset": 2, "y2Offset": 2},
"encoding": {
  "x": {"field": "x1", "type": "quantitative", "scale": {"domain": [0, 24], "nice": false}, "axis": null},
  "x2": {"field": "x2"},
  "y": {"field": "y1", "type": "quantitative", "scale": {"domain": [0, 140], "nice": false}, "axis": null},
  "y2": {"field": "y2"}
}
},
{
"data": {"name": "note"},
"mark": {"type": "rect", "fill": "#EBEBEB", "stroke": "#808080", "strokeWidth": 1.5},
"encoding": {
  "x": {"field": "x1", "type": "quantitative", "scale": {"domain": [0, 24], "nice": false}, "axis": null},
  "x2": {"field": "x2"},
  "y": {"field": "y1", "type": "quantitative", "scale": {"domain": [0, 140], "nice": false}, "axis": null},
  "y2": {"field": "y2"}
}
},
{
"data": {"name": "note"},
"mark": {"type": "text", "font": "Liberation Serif", "fontSize": 17, "fontWeight": "bold", "color": "#000", "align": "center", "baseline": "middle"},
"encoding": {
  "x": {"field": "xc", "type": "quantitative", "scale": {"domain": [0, 24], "nice": false}, "axis": null},
  "y": {"field": "yc", "type": "quantitative", "scale": {"domain": [0, 140], "nice": false}, "axis": null},
  "text": {"field": "label"}
}
}
],
"resolve": {"axis": {"x": "independent", "y": "independent"}}
}
